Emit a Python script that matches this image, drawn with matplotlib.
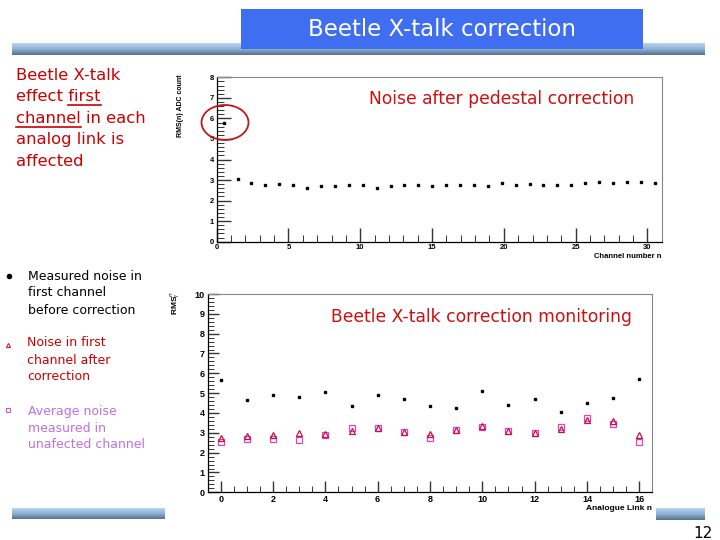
import numpy as np
import matplotlib
matplotlib.use("Agg")
import matplotlib.pyplot as plt
from matplotlib.patches import Rectangle, Ellipse
from matplotlib.ticker import MultipleLocator

# ---------------- data ----------------
# top plot: noise per channel (histogram of 32 bins over 0..31)
channel_range = (0.0, 31.0)
channel_noise = [5.80, 3.03, 2.84, 2.74, 2.81, 2.74, 2.61, 2.69, 2.69, 2.74,
                 2.74, 2.59, 2.72, 2.74, 2.74, 2.72, 2.76, 2.74, 2.76, 2.72,
                 2.84, 2.76, 2.81, 2.76, 2.76, 2.76, 2.84, 2.89, 2.84, 2.89,
                 2.91, 2.84]

# bottom plot: per analogue link
links = list(range(17))
noise_before = [5.68, 4.65, 4.90, 4.80, 5.07, 4.37, 4.93, 4.72, 4.35, 4.25,
                5.10, 4.41, 4.69, 4.04, 4.50, 4.78, 5.70]
noise_after = [2.74, 2.82, 2.91, 2.98, 2.92, 3.10, 3.26, 3.04, 2.94, 3.13,
               3.36, 3.10, 3.01, 3.20, 3.64, 3.60, 2.87]
noise_avg = [2.56, 2.71, 2.70, 2.66, 2.89, 3.25, 3.25, 3.04, 2.73, 3.12,
             3.28, 3.07, 2.99, 3.31, 3.73, 3.43, 2.52]

slide_title = "Beetle X-talk correction"
top_plot_title = "Noise after pedestal correction"
bottom_plot_title = "Beetle X-talk correction monitoring"
page_number = "12"

# ---------------- figure ----------------
W, H = 720, 540
fig = plt.figure(figsize=(7.2, 5.4), dpi=100)
fig.patch.set_facecolor("white")
renderer = fig.canvas.get_renderer()

def fr(x0, y0, x1, y1):
    """pixel box (top-left origin) -> figure fraction rect"""
    return [x0 / W, 1 - y1 / H, (x1 - x0) / W, (y1 - y0) / H]

bg = fig.add_axes([0, 0, 1, 1])
bg.set_xlim(0, W)
bg.set_ylim(H, 0)
bg.axis("off")

grad = np.linspace(0, 1, 64).reshape(-1, 1)
cmap_bar = matplotlib.colors.LinearSegmentedColormap.from_list(
    "bar", ["#b8d4f0", "#8fb0d4", "#55708c"])
bg.imshow(grad, cmap=cmap_bar, aspect="auto", extent=(12, 705, 55, 43), zorder=1)
bg.imshow(grad, cmap=cmap_bar, aspect="auto", extent=(12, 165, 519, 508), zorder=1)
bg.imshow(grad, cmap=cmap_bar, aspect="auto", extent=(656, 705, 520, 508), zorder=1)

# title box
bg.add_patch(Rectangle((241, 9), 402, 40, facecolor="#3f6ef0", edgecolor="none", zorder=2))
bg.text(442, 30, slide_title, color="white", fontsize=16.5, ha="center", va="center", zorder=3)

# left red text
red = "#cc0000"
lfs = 11.8
left_lines = ["Beetle X-talk", "effect first", "channel in each", "analog link is", "affected"]
for i, ln in enumerate(left_lines):
    bg.text(16, 75 + i * 21.6, ln, color=red, fontsize=lfs, ha="left", va="center")

def text_width_px(s):
    t = bg.text(0, 0, s, fontsize=lfs)
    w = t.get_window_extent(renderer=renderer).width
    t.remove()
    return w

x_first0 = 16 + text_width_px("effect ")
x_first1 = 16 + text_width_px("effect first")
bg.plot([x_first0, x_first1], [105, 105], color=red, lw=1.2)
bg.plot([16, 16 + text_width_px("channel")], [127, 127], color=red, lw=1.2)

# bullets
bg.plot([9], [276], marker="o", ms=3, color="black")
for i, ln in enumerate(["Measured noise in", "first channel", "before correction"]):
    bg.text(28, 276 + i * 17, ln, color="black", fontsize=9, va="center")
bg.plot([8], [345], marker="^", ms=3, mfc="none", mec="#cc2030", mew=0.8)
for i, ln in enumerate(["Noise in first", "channel after", "correction"]):
    bg.text(27, 343 + i * 17, ln, color="#cc0000", fontsize=9, va="center")
bg.plot([8], [410], marker="s", ms=3, mfc="none", mec="#d050c0", mew=0.8)
violet = "#c070e0"
for i, ln in enumerate(["Average noise", "measured in", "unafected channel"]):
    bg.text(28, 411 + i * 17, ln, color=violet, fontsize=9, va="center")

bg.text(713, 533, page_number, color="black", fontsize=11, ha="right", va="center")

tickfont = dict(family="Liberation Sans", weight="bold")

def style_axes(ax, fs):
    for s in ["left", "bottom"]:
        ax.spines[s].set_color("black")
        ax.spines[s].set_linewidth(0.9)
    for s in ["top", "right"]:
        ax.spines[s].set_color("#888888")
        ax.spines[s].set_linewidth(0.8)
    ax.tick_params(which="both", direction="in", top=False, right=False,
                   colors="#333333", labelcolor="black", labelsize=fs, pad=2)
    for lab in ax.get_xticklabels() + ax.get_yticklabels():
        lab.set_fontfamily("Liberation Sans")
        lab.set_fontweight("bold")

# ---------------- top plot ----------------
ax1 = fig.add_axes(fr(216.7, 77.3, 661.7, 241.7))
edges = np.linspace(channel_range[0], channel_range[1], len(channel_noise) + 1)
centers = 0.5 * (edges[:-1] + edges[1:])
ax1.plot(centers, channel_noise, ls="none", marker="s", ms=2.0, color="black")
ax1.set_xlim(*channel_range)
ax1.set_ylim(0, 8)
ax1.xaxis.set_major_locator(MultipleLocator(5))
ax1.xaxis.set_minor_locator(MultipleLocator(1))
ax1.yaxis.set_major_locator(MultipleLocator(1))
ax1.yaxis.set_minor_locator(MultipleLocator(0.2))
ax1.tick_params(which="major", length=10, width=1.0)
ax1.tick_params(which="minor", length=5, width=0.7)
style_axes(ax1, 5.5)
ax1.text(0.64, 0.87, top_plot_title, transform=ax1.transAxes, color="#cc1010",
         fontsize=12.3, ha="center", va="center")

bg.text(661, 256, "Channel number n", fontsize=5.5, ha="right", va="center", **tickfont)
bg.text(181, 74, "RMS(n) ADC count", fontsize=5, rotation=90, ha="center", va="top", **tickfont)

# ---------------- bottom plot ----------------
ax2 = fig.add_axes(fr(207.6, 294.0, 652.4, 492.3))
ax2.plot(links, noise_before, ls="none", marker="s", ms=2.0, color="black")
ax2.plot(links, noise_avg, ls="none", marker="s", ms=4, mfc="none", mec="#e040c8", mew=0.9)
ax2.plot(links, noise_after, ls="none", marker="^", ms=4, mfc="none", mec="#c8103c", mew=0.9)
ax2.set_xlim(-0.5, 16.5)
ax2.set_ylim(0, 10)
ax2.xaxis.set_major_locator(MultipleLocator(2))
ax2.xaxis.set_minor_locator(MultipleLocator(0.5))
ax2.yaxis.set_major_locator(MultipleLocator(1))
ax2.yaxis.set_minor_locator(MultipleLocator(0.2))
ax2.tick_params(which="major", length=8, width=1.0)
ax2.tick_params(which="minor", length=4, width=0.7)
style_axes(ax2, 6.5)
ax2.text(0.615, 0.885, bottom_plot_title, transform=ax2.transAxes, color="#cc1010",
         fontsize=12.3, ha="center", va="center")

bg.text(652, 509, "Analogue Link n", fontsize=6, ha="right", va="center", **tickfont)
bg.text(175, 291, r"RMS$_i^n$", fontsize=6, rotation=90, ha="center", va="top", **tickfont)

# ---------------- front overlay (red circle) ----------------
fg = fig.add_axes([0, 0, 1, 1])
fg.set_xlim(0, W)
fg.set_ylim(H, 0)
fg.axis("off")
fg.patch.set_alpha(0)
fg.set_zorder(10)
fg.add_patch(Ellipse((225, 122.5), 47, 35, facecolor="none", edgecolor="#c01818", lw=1.3))

fig.savefig("out.png", dpi=100)
